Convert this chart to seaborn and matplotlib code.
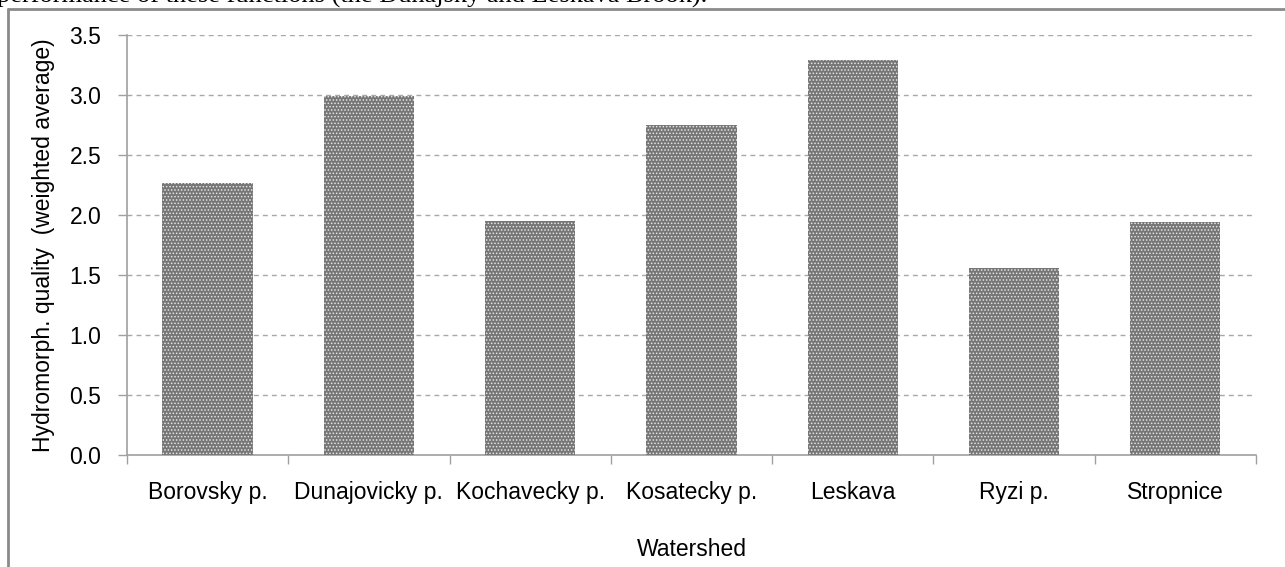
import matplotlib
matplotlib.use("Agg")
import matplotlib.pyplot as plt
from matplotlib.lines import Line2D
import seaborn as sns
import pandas as pd
import numpy as np

# Watershed names and their weighted hydromorphological quality
watersheds = ["Borovsky p.", "Dunajovicky p.", "Kochavecky p.", "Kosatecky p.",
              "Leskava", "Ryzi p.", "Stropnice"]
quality = [2.27, 2.99, 1.95, 2.75, 3.29, 1.56, 1.94]
y_ticks = [0.0, 0.5, 1.0, 1.5, 2.0, 2.5, 3.0, 3.5]

df = pd.DataFrame({"Watershed": watersheds, "Quality": quality})

sns.set_theme(style="white")
plt.rcParams["font.family"] = ["Liberation Sans", "DejaVu Sans"]
plt.rcParams["hatch.linewidth"] = 0.7

FS = 16.5

fig = plt.figure(figsize=(12.85, 5.67), dpi=100)
ax = fig.add_axes([0.0988, 0.1975, 0.9774 - 0.0988, 0.9383 - 0.1975])

sns.barplot(data=df, x="Watershed", y="Quality", color="#767676",
            width=0.56, saturation=1, ax=ax, zorder=3)
for bar in ax.patches:
    bar.set_facecolor("#767676")
    bar.set_edgecolor("#e6e6e6")
    bar.set_linewidth(0)
    bar.set_hatch(".....")

ax.set_ylim(0, 3.5)
ax.set_xlim(-0.5, len(watersheds) - 0.5)
ax.set_yticks(y_ticks)
ax.set_yticklabels([f"{v:.1f}" for v in y_ticks], fontsize=FS)
ax.set_xticks(range(len(watersheds)))
ax.set_xticklabels(watersheds, fontsize=FS)
ax.set_xticks(np.arange(-0.5, len(watersheds), 1.0), minor=True)

ax.tick_params(axis="x", which="major", length=0, pad=19, colors="black")
ax.tick_params(axis="x", which="minor", length=6.5, width=1, color="#a0a0a0",
               direction="out", bottom=True)
ax.tick_params(axis="y", which="major", length=6.5, width=1, color="#a0a0a0",
               direction="out", left=True, pad=12, labelcolor="black")

ax.grid(axis="y", linestyle=(0, (3.5, 3)), color="#a8a8a8", linewidth=1, zorder=0)
ax.grid(axis="x", visible=False)

for side in ["top", "right"]:
    ax.spines[side].set_visible(False)
for side in ["left", "bottom"]:
    ax.spines[side].set_color("#a0a0a0")
    ax.spines[side].set_linewidth(1.2)

ax.set_ylabel("Hydromorph. quality  (weighted average)", fontsize=FS,
              labelpad=10, color="black")
ax.set_xlabel("Watershed", fontsize=FS, labelpad=24, color="black")

# Page frame around the figure area and the running text above it
fig.add_artist(Line2D([8 / 1285, 8 / 1285], [0, 1 - 9 / 567],
                      transform=fig.transFigure, color="#8a8a8a", linewidth=2))
fig.add_artist(Line2D([8 / 1285, 1], [1 - 9 / 567, 1 - 9 / 567],
                      transform=fig.transFigure, color="#8a8a8a", linewidth=2))
fig.text(-0.002, 1 - 3 / 567,
         "performance of these functions (the Dunajsky and Leskava Brook).",
         fontsize=19, family=["Liberation Serif", "DejaVu Serif"],
         va="baseline", ha="left", color="black")

fig.savefig("out.png", dpi=100)
